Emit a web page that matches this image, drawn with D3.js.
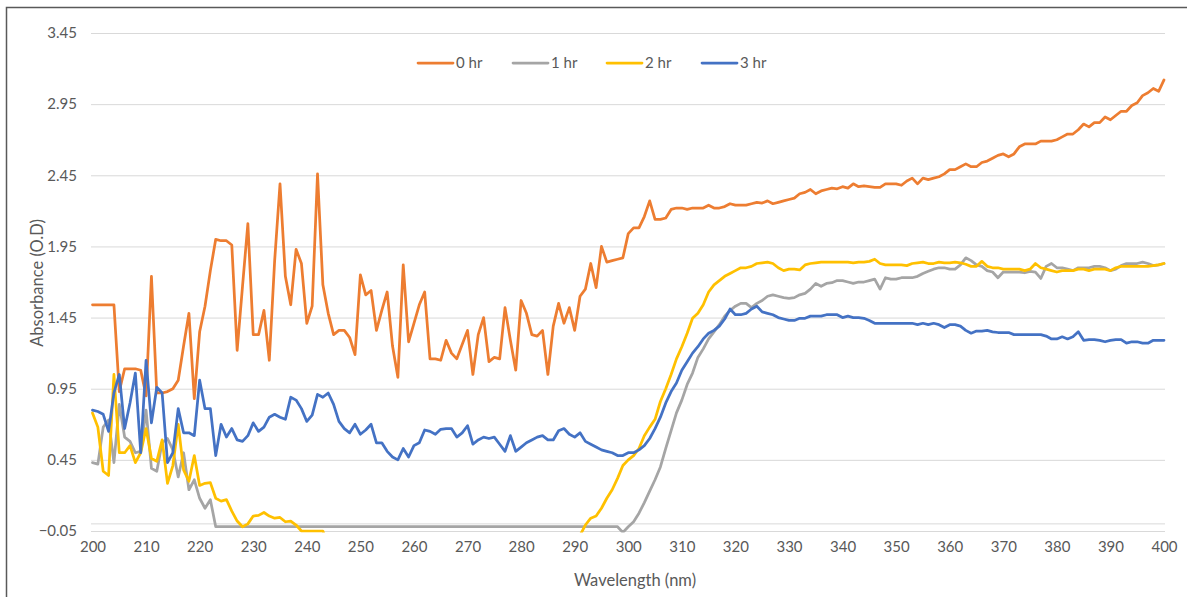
<!DOCTYPE html>
<html><head><meta charset="utf-8">
<script src="https://cdn.jsdelivr.net/npm/d3@7"></script>
<style>
body{margin:0;background:#fff}
svg{display:block}
text{font-family:Lato,"Open Sans",sans-serif;fill:#595959}
</style>
</head><body>
<svg id="chart" width="1187" height="597"></svg>
<script>
// ---- data ----
const wavelengths = d3.range(200, 401); // nm, one reading per nm
const xTickLabels = d3.range(200, 401, 10);
const yTickLabels = [-0.05, 0.45, 0.95, 1.45, 1.95, 2.45, 2.95, 3.45];
const seriesNames = ["0 hr", "1 hr", "2 hr", "3 hr"];
const seriesColors = ["#ED7D31", "#A5A5A5", "#FFC000", "#4472C4"];

const hr0 = [
 1.54,1.54,1.54,1.54,1.54, 0.93,1.09,1.09,1.09,1.08,
 0.90,1.74,0.92,0.92,0.93, 0.95,1.01,1.25,1.48,0.88,
 1.35,1.53,1.78,2.00,1.99, 1.99,1.96,1.22,1.67,2.11,
 1.33,1.33,1.50,1.15,1.85, 2.39,1.74,1.54,1.93,1.83,
 1.41,1.53,2.46,1.68,1.48, 1.33,1.36,1.36,1.31,1.19,
 1.75,1.61,1.64,1.36,1.50, 1.63,1.25,1.03,1.82,1.28,
 1.41,1.54,1.63,1.16,1.16, 1.15,1.29,1.20,1.16,1.26,
 1.36,1.05,1.33,1.45,1.14, 1.17,1.16,1.52,1.29,1.08,
 1.57,1.48,1.33,1.32,1.36, 1.05,1.39,1.55,1.41,1.52,
 1.36,1.60,1.65,1.83,1.66, 1.95,1.84,1.85,1.86,1.87,
 2.04,2.08,2.08,2.16,2.27, 2.14,2.14,2.15,2.21,2.22,
 2.22,2.21,2.22,2.22,2.22, 2.24,2.22,2.22,2.23,2.25,
 2.24,2.24,2.24,2.25,2.26, 2.255,2.27,2.25,2.26,2.27,
 2.28,2.29,2.32,2.33,2.35, 2.32,2.34,2.35,2.36,2.355,
 2.37,2.36,2.39,2.37,2.375, 2.37,2.365,2.365,2.39,2.39,
 2.39,2.38,2.41,2.43,2.39, 2.43,2.42,2.43,2.44,2.46,
 2.49,2.49,2.51,2.53,2.51, 2.51,2.54,2.55,2.57,2.59,
 2.60,2.58,2.60,2.65,2.67, 2.67,2.67,2.69,2.69,2.69,
 2.70,2.72,2.74,2.74,2.77, 2.81,2.79,2.82,2.82,2.86,
 2.84,2.87,2.90,2.90,2.94, 2.96,3.01,3.03,3.06,3.04,
 3.12
];

const hr1 = [
 0.43,0.42,0.68,0.73,0.43, 0.84,0.61,0.58,0.50,0.51,
 0.80,0.39,0.37,0.57,0.60, 0.52,0.33,0.50,0.24,0.31,
 0.18,0.11,0.17,-0.02,-0.02, -0.02,-0.02,-0.02,-0.02,-0.02,
 -0.02,-0.02,-0.02,-0.02,-0.02, -0.02,-0.02,-0.02,-0.02,-0.02,
 -0.02,-0.02,-0.02,-0.02,-0.02, -0.02,-0.02,-0.02,-0.02,-0.02,
 -0.02,-0.02,-0.02,-0.02,-0.02, -0.02,-0.02,-0.02,-0.02,-0.02,
 -0.02,-0.02,-0.02,-0.02,-0.02, -0.02,-0.02,-0.02,-0.02,-0.02,
 -0.02,-0.02,-0.02,-0.02,-0.02, -0.02,-0.02,-0.02,-0.02,-0.02,
 -0.02,-0.02,-0.02,-0.02,-0.02, -0.02,-0.02,-0.02,-0.02,-0.02,
 -0.02,-0.02,-0.02,-0.02,-0.02, -0.02,-0.02,-0.02,-0.02,-0.06,
 -0.02,0.015,0.075,0.15,0.23, 0.31,0.40,0.53,0.655,0.78,
 0.87,0.98,1.06,1.17,1.23, 1.30,1.35,1.40,1.46,1.50,
 1.53,1.55,1.55,1.52,1.55, 1.57,1.60,1.61,1.60,1.59,
 1.585,1.59,1.61,1.62,1.65, 1.69,1.67,1.69,1.695,1.71,
 1.71,1.70,1.69,1.70,1.70, 1.71,1.72,1.65,1.73,1.72,
 1.72,1.73,1.73,1.73,1.74, 1.76,1.775,1.79,1.80,1.80,
 1.79,1.79,1.82,1.87,1.85, 1.82,1.81,1.78,1.77,1.73,
 1.77,1.77,1.77,1.77,1.765, 1.775,1.77,1.725,1.81,1.83,
 1.80,1.80,1.79,1.78,1.80, 1.80,1.80,1.81,1.81,1.80,
 1.78,1.79,1.815,1.83,1.83, 1.83,1.84,1.83,1.815,1.82,
 1.83
];

const hr2 = [
 0.78,0.68,0.37,0.34,1.05, 0.50,0.50,0.55,0.43,0.50,
 0.67,0.46,0.44,0.59,0.285, 0.41,0.70,0.38,0.30,0.48,
 0.27,0.285,0.29,0.18,0.16, 0.17,0.09,0.02,-0.02,0.00,
 0.055,0.06,0.08,0.055,0.04, 0.045,0.015,0.02,-0.008,-0.05,
 -0.05,-0.05,-0.05,-0.05,-0.15, -0.15,-0.15,-0.15,-0.15,-0.15,
 -0.15,-0.15,-0.15,-0.15,-0.15, -0.15,-0.15,-0.15,-0.15,-0.15,
 -0.15,-0.15,-0.15,-0.15,-0.15, -0.15,-0.15,-0.15,-0.15,-0.15,
 -0.15,-0.15,-0.15,-0.15,-0.15, -0.15,-0.15,-0.15,-0.15,-0.15,
 -0.15,-0.15,-0.15,-0.15,-0.15, -0.15,-0.15,-0.15,-0.15,-0.15,
 -0.15,-0.08,-0.008,0.04,0.055, 0.11,0.18,0.24,0.32,0.41,
 0.45,0.48,0.53,0.62,0.68, 0.735,0.86,0.95,1.05,1.16,
 1.245,1.34,1.445,1.48,1.54, 1.63,1.68,1.71,1.74,1.76,
 1.78,1.80,1.80,1.81,1.83, 1.835,1.84,1.83,1.80,1.78,
 1.79,1.79,1.785,1.82,1.83, 1.835,1.84,1.84,1.84,1.84,
 1.84,1.84,1.835,1.84,1.84, 1.845,1.86,1.83,1.82,1.82,
 1.82,1.82,1.815,1.83,1.835, 1.84,1.83,1.83,1.84,1.835,
 1.835,1.84,1.835,1.825,1.81, 1.81,1.845,1.81,1.80,1.80,
 1.79,1.79,1.79,1.79,1.78, 1.79,1.83,1.80,1.79,1.78,
 1.77,1.78,1.78,1.78,1.79, 1.79,1.78,1.79,1.79,1.79,
 1.78,1.80,1.81,1.81,1.81, 1.81,1.81,1.81,1.815,1.82,
 1.83
];

const hr3 = [
 0.80,0.79,0.77,0.65,0.92, 1.05,0.67,0.85,1.06,0.50,
 1.15,0.71,0.96,0.92,0.43, 0.50,0.81,0.64,0.64,0.62,
 1.01,0.81,0.81,0.48,0.70, 0.61,0.67,0.59,0.58,0.62,
 0.71,0.65,0.68,0.75,0.77, 0.75,0.735,0.89,0.87,0.81,
 0.72,0.765,0.91,0.89,0.92, 0.84,0.72,0.67,0.64,0.70,
 0.63,0.66,0.70,0.57,0.57, 0.51,0.47,0.45,0.53,0.47,
 0.55,0.57,0.66,0.65,0.63, 0.665,0.67,0.67,0.61,0.64,
 0.69,0.56,0.59,0.61,0.60, 0.61,0.56,0.51,0.62,0.51,
 0.54,0.57,0.59,0.61,0.62, 0.59,0.59,0.655,0.67,0.63,
 0.61,0.64,0.58,0.56,0.54, 0.52,0.51,0.50,0.48,0.48,
 0.50,0.50,0.52,0.55,0.60, 0.67,0.75,0.85,0.93,0.99,
 1.08,1.14,1.20,1.245,1.30, 1.34,1.36,1.39,1.44,1.51,
 1.47,1.47,1.48,1.51,1.53, 1.49,1.48,1.47,1.45,1.44,
 1.43,1.43,1.445,1.445,1.46, 1.46,1.46,1.47,1.47,1.47,
 1.45,1.46,1.45,1.45,1.445, 1.43,1.41,1.41,1.41,1.41,
 1.41,1.41,1.41,1.41,1.40, 1.41,1.40,1.41,1.40,1.38,
 1.40,1.40,1.39,1.36,1.34, 1.355,1.355,1.36,1.35,1.345,
 1.345,1.345,1.33,1.33,1.33, 1.33,1.33,1.33,1.32,1.30,
 1.30,1.315,1.30,1.315,1.35, 1.29,1.295,1.295,1.29,1.28,
 1.29,1.295,1.295,1.27,1.28, 1.28,1.27,1.27,1.29,1.29,
 1.29
];

const seriesValues = [hr0, hr1, hr2, hr3];

// ---- drawing ----
const W = 1187, H = 597;
const plot = {left: 91, right: 1165, top: 33, bottom: 531};
const svg = d3.select("#chart");

svg.append("rect").attr("x", 6.5).attr("y", 7.5).attr("width", W + 10).attr("height", H + 10)
  .attr("fill", "#fff").attr("stroke", "#595959").attr("stroke-width", 1.5);

const x = d3.scaleLinear().domain([200, 400]).range([92.5, 1164]);
const y = d3.scaleLinear().domain([-0.05, 3.45]).range([plot.bottom, plot.top]);

// y gridlines + labels
const yAxis = d3.axisLeft(y).tickValues(yTickLabels).tickFormat(d3.format(".2f"))
  .tickSize(-(plot.right - plot.left)).tickPadding(14);
const gy = svg.append("g").attr("transform", `translate(${plot.left},0)`).call(yAxis);
gy.select(".domain").remove();
gy.selectAll(".tick line").attr("stroke", "#d9d9d9").attr("stroke-width", 1);
gy.selectAll(".tick text").style("font-size", "15px").attr("fill", "#595959");

// horizontal axis line at 0
svg.append("line").attr("x1", plot.left).attr("x2", plot.right)
  .attr("y1", y(0)).attr("y2", y(0)).attr("stroke", "#d9d9d9").attr("stroke-width", 1);

// x labels
const xAxis = d3.axisBottom(x).tickValues(xTickLabels).tickFormat(d3.format("d"))
  .tickSize(0).tickPadding(10);
const gx = svg.append("g").attr("transform", `translate(0,${plot.bottom})`).call(xAxis);
gx.select(".domain").remove();
gx.selectAll(".tick text").style("font-size", "15px").attr("fill", "#595959");

// clip
svg.append("clipPath").attr("id", "clip").append("rect")
  .attr("x", plot.left - 2).attr("y", plot.top - 5)
  .attr("width", plot.right - plot.left + 4).attr("height", plot.bottom - plot.top + 6.5);

const line = d3.line().x((d, i) => x(wavelengths[i])).y(d => y(d));
const gl = svg.append("g").attr("clip-path", "url(#clip)");
seriesValues.forEach((vals, k) => {
  gl.append("path").datum(vals).attr("d", line)
    .attr("fill", "none").attr("stroke", seriesColors[k]).attr("stroke-width", 2.75)
    .attr("stroke-linejoin", "round").attr("stroke-linecap", "round");
});

// axis titles
svg.append("text").attr("x", 635).attr("y", 586).attr("text-anchor", "middle")
  .style("font-size", "16.5px").text("Wavelength (nm)");
svg.append("text").attr("transform", "translate(43,283) rotate(-90)").attr("text-anchor", "middle")
  .style("font-size", "16.5px").text("Absorbance (O.D)");

// legend
const legendX = [418, 513, 607, 702];
const lg = svg.append("g");
seriesNames.forEach((name, k) => {
  lg.append("line").attr("x1", legendX[k]).attr("x2", legendX[k] + 35)
    .attr("y1", 63).attr("y2", 63).attr("stroke", seriesColors[k])
    .attr("stroke-width", 2.75).attr("stroke-linecap", "round");
  lg.append("text").attr("x", legendX[k] + 38).attr("y", 68)
    .style("font-size", "15px").text(name);
});
</script>
</body></html>
